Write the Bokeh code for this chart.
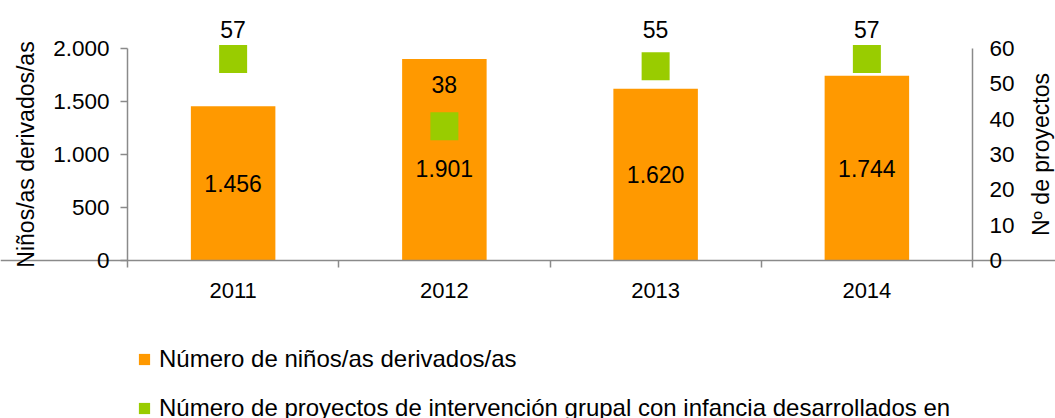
import math
from bokeh.plotting import figure
from bokeh.models import (ColumnDataSource, Range1d, LinearAxis, FixedTicker,
                          LabelSet, Label, Legend, LegendItem)
from bokeh.core.properties import value
from bokeh.embed import file_html
from bokeh.resources import INLINE

# ---- data ----
years = ["2011", "2012", "2013", "2014"]
ninos = [1456, 1901, 1620, 1744]
proyectos = [57, 38, 55, 57]
left_ticks = [0, 500, 1000, 1500, 2000]
left_tick_labels = ["0", "500", "1.000", "1.500", "2.000"]
right_ticks = [0, 10, 20, 30, 40, 50, 60]
left_title = "Niños/as derivados/as"
right_title = "Nº de proyectos"
series_names = ["Número de niños/as derivados/as",
                "Número de proyectos de intervención grupal con infancia desarrollados en"]

# ---- styles / layout ----
ORANGE = "#FF9900"
GREEN = "#99CC00"
AXIS = "#8A8A8A"
FONT = "Liberation Sans"
TICK_FS = "22.5px"
TEXT_FS = "23px"
LEGEND_FS = "24px"
bar_label_shift = [0, -9, 0, 0]
proy_label_shift = [30, 42, 37, 30]

W, H = 1055, 418
AX_LEFT_PX, AX_RIGHT_PX = 127, 972     # pixel columns of the two y axes
AX_TOP_PX, AX_ZERO_PX = 48, 260        # pixel rows of top tick and of zero


def y_range_for(top_value):
    per_px = top_value / (AX_ZERO_PX - AX_TOP_PX)
    return Range1d(-(H - AX_ZERO_PX) * per_px, top_value + AX_TOP_PX * per_px)


n = len(years)
per_px_x = n / (AX_RIGHT_PX - AX_LEFT_PX)
x_range = Range1d(-AX_LEFT_PX * per_px_x, n + (W - AX_RIGHT_PX) * per_px_x)

xs = [i + 0.5 for i in range(n)]
src = ColumnDataSource(dict(
    x=xs,
    ninos=ninos,
    mid=[v / 2 for v in ninos],
    ninos_txt=[f"{v:,}".replace(",", ".") for v in ninos],
    proy=proyectos,
    proy_txt=[str(v) for v in proyectos],
    bar_off=bar_label_shift,
    proy_off=proy_label_shift,
))

p = figure(width=W, height=H, output_backend="svg", toolbar_location=None,
           x_range=x_range, y_range=y_range_for(max(left_ticks)),
           min_border=0, x_axis_location=None, y_axis_location=None)
p.title.visible = False
p.outline_line_color = None
p.xgrid.visible = False
p.ygrid.visible = False
p.background_fill_color = "white"
p.border_fill_color = "white"
p.extra_y_ranges = {"right": y_range_for(max(right_ticks))}


def style_labels(ax):
    ax.major_label_text_font = FONT
    ax.major_label_text_font_size = TICK_FS
    ax.major_label_text_color = "black"
    ax.axis_line_color = AXIS
    ax.axis_line_width = 1.5


# x axis, pinned at y = 0
xa = LinearAxis(fixed_location=0,
                ticker=FixedTicker(ticks=xs, minor_ticks=list(range(n + 1))))
xa.major_label_overrides = {x: y for x, y in zip(xs, years)}
xa.major_tick_line_color = None
xa.major_tick_out = 0
xa.major_tick_in = 0
xa.minor_tick_out = 7
xa.minor_tick_in = 0
xa.minor_tick_line_color = AXIS
xa.minor_tick_line_width = 1.5
xa.major_label_standoff = 15
style_labels(xa)
xa.major_label_text_font_size = "22px"
p.add_layout(xa, "below")

# left axis, pinned at x = 0
ya = LinearAxis(fixed_location=0, ticker=FixedTicker(ticks=left_ticks))
ya.major_label_overrides = {t: l for t, l in zip(left_ticks, left_tick_labels)}
ya.bounds = (0, max(left_ticks))
ya.major_tick_out = 7
ya.major_tick_in = 0
ya.major_tick_line_color = AXIS
ya.major_tick_line_width = 1.5
ya.minor_tick_line_color = None
ya.major_label_standoff = 11
style_labels(ya)
p.add_layout(ya, "left")

# right axis, pinned at x = n
ra = LinearAxis(fixed_location=n, y_range_name="right",
                ticker=FixedTicker(ticks=right_ticks))
ra.bounds = (0, max(right_ticks))
ra.major_tick_line_color = None
ra.major_tick_out = 0
ra.major_tick_in = 0
ra.minor_tick_line_color = None
ra.major_label_standoff = 17
style_labels(ra)
p.add_layout(ra, "right")

# axis titles (centred on each axis, reading bottom to top)
p.add_layout(Label(x=0, y=max(left_ticks) / 2, x_offset=-102, text=left_title,
                   angle=math.pi / 2, text_align="center", text_baseline="middle",
                   text_font=FONT, text_font_size=TEXT_FS, text_color="black"))
p.add_layout(Label(x=n, y=max(right_ticks) / 2, y_range_name="right", x_offset=68,
                   text=right_title, angle=math.pi / 2, text_align="center",
                   text_baseline="middle", text_font=FONT,
                   text_font_size=TEXT_FS, text_color="black"))

# glyphs
bars = p.vbar(x="x", top="ninos", width=0.4, source=src,
              fill_color=ORANGE, line_color=None)
p.scatter(x="x", y="proy", marker="square", size=28, source=src,
          fill_color=GREEN, line_color=None, y_range_name="right")

p.add_layout(LabelSet(x="x", y="mid", text="ninos_txt", source=src,
                      y_offset="bar_off", text_align="center",
                      text_baseline="middle", text_font=value(FONT),
                      text_font_size=TEXT_FS, text_color="black"))
p.add_layout(LabelSet(x="x", y="proy", text="proy_txt", source=src,
                      y_range_name="right", y_offset="proy_off",
                      text_align="center", text_baseline="middle",
                      text_font=value(FONT), text_font_size=TEXT_FS,
                      text_color="black"))

# legend swatch for the green series (a zero-height bar, invisible in the plot)
proxy = p.vbar(x=xs[:1], top=[0], bottom=[0], width=0, fill_color=GREEN,
               line_color=None)

legend = Legend(items=[LegendItem(label=series_names[0], renderers=[bars]),
                       LegendItem(label=series_names[1], renderers=[proxy])],
                location=(137, -4), orientation="vertical",
                glyph_width=14, glyph_height=14, label_standoff=8,
                spacing=21, padding=0, margin=0,
                border_line_color=None, background_fill_alpha=0,
                label_text_font=FONT, label_text_font_size=LEGEND_FS,
                label_text_color="black", label_height=20)
p.add_layout(legend)

open("out.html", "w").write(file_html(p, INLINE))
